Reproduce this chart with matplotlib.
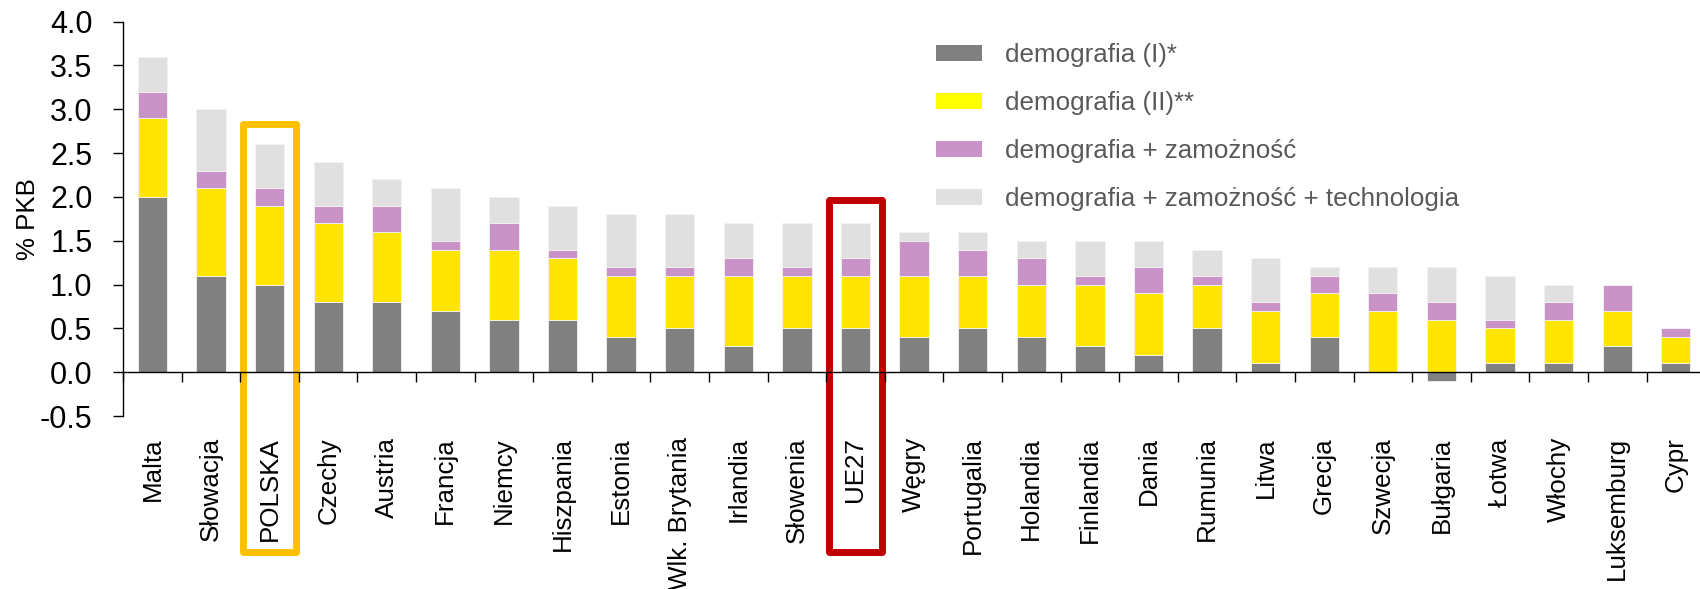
import numpy as np
import matplotlib
matplotlib.use('Agg')
import matplotlib.pyplot as plt
from matplotlib import font_manager
from matplotlib.patches import Rectangle

countries = ['Malta', 'Słowacja', 'POLSKA', 'Czechy', 'Austria', 'Francja', 'Niemcy',
             'Hiszpania', 'Estonia', 'Wlk. Brytania', 'Irlandia', 'Słowenia', 'UE27',
             'Węgry', 'Portugalia', 'Holandia', 'Finlandia', 'Dania', 'Rumunia', 'Litwa',
             'Grecja', 'Szwecja', 'Bułgaria', 'Łotwa', 'Włochy', 'Luksemburg', 'Cypr']

# scenario levels, % PKB (each scenario includes the previous one)
demo1 = [2.0, 1.1, 1.0, 0.8, 0.8, 0.7, 0.6, 0.6, 0.4, 0.5, 0.3, 0.5, 0.5, 0.4,
         0.5, 0.4, 0.3, 0.2, 0.5, 0.1, 0.4, 0.0, -0.1, 0.1, 0.1, 0.3, 0.1]
demo2 = [2.9, 2.1, 1.9, 1.7, 1.6, 1.4, 1.4, 1.3, 1.1, 1.1, 1.1, 1.1, 1.1, 1.1,
         1.1, 1.0, 1.0, 0.9, 1.0, 0.7, 0.9, 0.7, 0.6, 0.5, 0.6, 0.7, 0.4]
zamoznosc = [3.2, 2.3, 2.1, 1.9, 1.9, 1.5, 1.7, 1.4, 1.2, 1.2, 1.3, 1.2, 1.3, 1.5,
             1.4, 1.3, 1.1, 1.2, 1.1, 0.8, 1.1, 0.9, 0.8, 0.6, 0.8, 1.0, 0.5]
technologia = [3.6, 3.0, 2.6, 2.4, 2.2, 2.1, 2.0, 1.9, 1.8, 1.8, 1.7, 1.7, 1.7, 1.6,
               1.6, 1.5, 1.5, 1.5, 1.4, 1.3, 1.2, 1.2, 1.2, 1.1, 1.0, 1.0, 0.5]

labels = ['demografia (I)*', 'demografia (II)**', 'demografia + zamożność',
          'demografia + zamożność + technologia']
colors = ['#808080', '#FFE500', '#C993C7', '#E0E0E0']
highlight = {'POLSKA': '#FFC000', 'UE27': '#C00000'}

names = {f.name for f in font_manager.fontManager.ttflist}
narrow = 'Liberation Sans Narrow' if 'Liberation Sans Narrow' in names else 'Liberation Sans'
plt.rcParams['font.family'] = ['Liberation Sans', 'DejaVu Sans']

fig = plt.figure(figsize=(17, 5.89), dpi=100)
ax = fig.add_axes([0.0724, 0.2937, 0.9306, 0.6695])

x = np.arange(len(countries))
levels = [np.array(demo1), np.array(demo2), np.array(zamoznosc), np.array(technologia)]
prev = None
for lev, lab, col in zip(levels, labels, colors):
    if prev is None:
        ax.bar(x, lev, width=0.5, color=col, edgecolor='#f2f2f2', linewidth=0.6, label=lab)
    else:
        bottom = np.maximum(prev, 0)
        ax.bar(x, lev - bottom, bottom=bottom, width=0.5, color=col,
               edgecolor='#f2f2f2', linewidth=0.6, label=lab)
    prev = lev

ax.set_xlim(-0.5, len(countries) - 0.5)
ax.set_ylim(-0.5, 4.0)
ax.set_yticks(np.arange(-0.5, 4.01, 0.5))
ax.set_yticklabels([f'{v:.1f}' for v in np.arange(-0.5, 4.01, 0.5)],
                   fontfamily=narrow, fontsize=22)
ax.set_ylabel('% PKB', fontsize=18.6)
ax.yaxis.set_label_coords(-0.0525, 0.5)

# x axis line at zero, tick marks between categories
ax.spines['top'].set_visible(False)
ax.spines['right'].set_visible(False)
ax.spines['bottom'].set_position(('data', 0))
ax.spines['left'].set_linewidth(1.0)
ax.spines['bottom'].set_linewidth(1.0)
ax.set_xticks(x)
ax.set_xticklabels(countries, rotation=90, fontsize=18.7)
ax.set_xticks(np.arange(-0.5, len(countries), 1), minor=True)
ax.tick_params(axis='x', which='major', length=0, pad=46.8)
ax.tick_params(axis='x', which='minor', length=7, width=1.0, direction='out')
ax.tick_params(axis='y', length=7, width=1.0, direction='out', pad=15)

# frames around Poland and the EU average
tops = {'POLSKA': 2.83, 'UE27': 1.97}
for name, col in highlight.items():
    i = countries.index(name)
    rect = Rectangle((i - 0.45, -2.05), 0.9, tops[name] + 2.05, fill=False,
                     edgecolor=col, linewidth=5, joinstyle='round', clip_on=False)
    ax.add_patch(rect)

leg = fig.legend(loc='upper left', bbox_to_anchor=(936 / 1700, 1 - 43 / 589),
                 frameon=False, fontsize=18.7, borderpad=0, borderaxespad=0,
                 handlelength=1.77, handleheight=0.58, handletextpad=0.88,
                 labelspacing=0.93)
for t in leg.get_texts():
    t.set_color('#595959')
leg.legend_handles[1].set_facecolor('#FFFF00')
for h in leg.legend_handles:
    h.set_edgecolor('none')

plt.savefig('out.png', dpi=100)
